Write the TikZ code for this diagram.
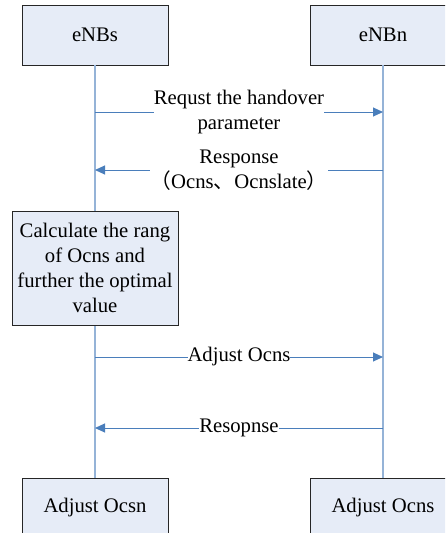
\documentclass[tikz,border=0pt]{standalone}
\usepackage{fontspec}
\setmainfont{Liberation Serif}
\newfontfamily\cjk{Noto Sans CJK SC}
\usetikzlibrary{arrows.meta}
\definecolor{boxfill}{RGB}{230,236,247}
\definecolor{lifeblue}{RGB}{149,179,215}
\definecolor{arrowblue}{RGB}{74,126,187}
\begin{document}
\begin{tikzpicture}[x=1pt,y=-1pt,
  font=\fontsize{20.7}{25}\selectfont,
  actor/.style={draw=black!85, fill=boxfill, line width=0.8pt, minimum width=146pt, minimum height=60pt, inner sep=0pt},
  life/.style={draw=lifeblue, line width=1.6pt},
  msg/.style={draw=arrowblue, line width=1pt, -{Triangle[length=10pt,width=9pt]}},
  lbl/.style={fill=white, inner sep=0pt, align=center}]
\clip (0,0) rectangle (445,533);
\node[actor] (s) at (95,35) {eNBs};
\node[actor] (n) at (383,35) {eNBn};
\node[actor] (sb) at (95,508) {Adjust Ocsn};
\node[actor] (nb) at (383,508) {Adjust Ocns};
\draw[life] (s.south) -- (sb.north);
\draw[life] (n.south) -- (nb.north);
\node[actor, minimum width=166pt, minimum height=114pt, align=center] (calc) at (95,268)
  {Calculate the rang\\of Ocns and\\further the optimal\\value};
\coordinate (m1s) at (95,112);
\coordinate (m1n) at (383,112);
\coordinate (m2s) at (95,170);
\coordinate (m2n) at (383,170);
\coordinate (m3s) at (95,357);
\coordinate (m3n) at (383,357);
\coordinate (m4s) at (95,428);
\coordinate (m4n) at (383,428);
\draw[msg] (m1s) -- node[lbl] (l1) {Requst the handover\\parameter} (m1n);
\draw[msg] (m2n) -- node[lbl] (l2) {Response\\{\cjk （}Ocns{\cjk 、}Ocnslate{\cjk ）}} (m2s);
\draw[msg] (m3s) -- node[lbl] (l3) {Adjust Ocns} (m3n);
\draw[msg] (m4n) -- node[lbl] (l4) {Resopnse} (m4s);
\end{tikzpicture}
\end{document}
